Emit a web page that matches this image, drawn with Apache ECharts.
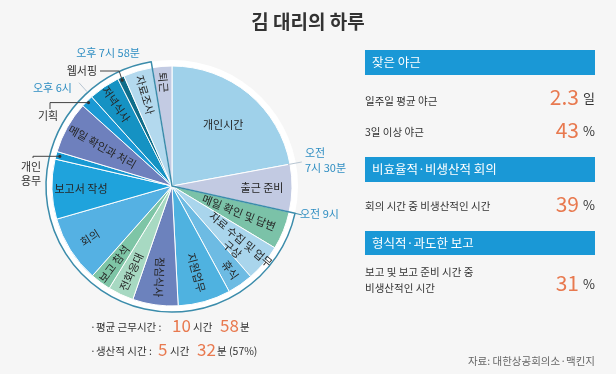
<!DOCTYPE html>
<html>
<head>
<meta charset="utf-8">
<script src="https://cdn.jsdelivr.net/npm/echarts@6/dist/echarts.min.js"></script>
<style>
html,body{margin:0;padding:0;background:#f6f6f6;}
#chart{width:616px;height:374px;}
</style>
</head>
<body>
<div id="chart"></div>
<script>
// ---- data ----
var categories = ['개인시간','출근 준비','메일 확인 및 답변','자료 수집 및 업무\n구상','휴식','지원업무','점심식사','전화응대','보고 참석','회의','보고서 작성','개인 용무','메일 확인과 처리','기획','저녁식사','웹서핑','자료조사','퇴근'];
var shares = [79.5,23,18.5,18,12.5,25.5,22,12.5,10,32.4,29,3.7,25.3,6,15.2,3.2,14.1,9.5];
var timeMarks = ['오전\n7시 30분','오전 9시','오후 6시','오후 7시 58분'];
var panelHeads = ['잦은 야근','비효율적·비생산적 회의','형식적·과도한 보고'];
var panelRows = ['일주일 평균 야근','3일 이상 야근','회의 시간 중 비생산적인 시간','보고 및 보고 준비 시간 중\n비생산적인 시간'];
var panelValues = ['2.3','43','39','31'];
var panelUnits = ['일','%','%','%'];
var workHours = ['10','58'];
var productive = ['5','32','57%'];
var source = '자료: 대한상공회의소·맥킨지';

// ---- styles / layout ----
var palette = ['#9fd1ea','#c2cae2','#7bc2a8','#a9d5ec','#6dbbe3','#4fb2e0','#6c82bd','#a7d9c2','#7ec5a6','#55b1e3','#1fa3dc','#1899d2','#6e80bd','#1b99d4','#1592c3','#0e6d8a','#b3d9ee','#c3cbe3'];
var labelRadius = [80,90,72,87,102,90,92,95,97,97,91,0,80,0,99,0,95,104];
var labelShift = [0,0,0,-2,0,0,0,0,0,0,0,0,0,0,0,0,0,0];
var FONT = '"Noto Sans CJK KR","Noto Sans",sans-serif';
var CX = 172, CY = 186, R = 120, RING = 126;
var ORANGE = '#e8794f', TEAL = '#3b8cab', BLUE = '#1a98d6', DARK = '#333';

var total = shares.reduce(function(a,b){return a+b;},0);
function boundaryAngle(i){ var c=0; for(var k=0;k<=i;k++) c+=shares[k]; return 90 - 360*c/total; }
function startAngle(i){ return i===0 ? 90 : boundaryAngle(i-1); }
function mid(i){ return (startAngle(i)+boundaryAngle(i))/2; }
function polar(a, r){ var t=a*Math.PI/180; return [CX + r*Math.cos(t), CY - r*Math.sin(t)]; }

var sumPre = shares[0]+shares[1];
var sumWork = 0; for (var k=2;k<=16;k++) sumWork += shares[k];
var sumPost = shares[17];

var horizontal = {0:1,1:1,10:1};
var hidden = {11:1,13:1,15:1};
var mainData = categories.map(function(c,i){ return {name:c, value:shares[i], itemStyle:{color:palette[i]}}; });

var chart = echarts.init(document.getElementById('chart'), null, {renderer:'canvas'});

function txt(x,y,text,opt){
  opt = opt||{};
  return {type:'text', silent:true, z:100, style:{x:x,y:y,text:text,fill:opt.fill||DARK,
    fontSize:opt.size||11,fontFamily:FONT,fontWeight:opt.weight||'normal',
    textAlign:opt.align||'left',textVerticalAlign:'middle',lineHeight:opt.lh||14}};
}
function line(points,color,w){
  return {type:'polyline', silent:true, z:100, shape:{points:points}, style:{stroke:color||'#444',lineWidth:w||1,fill:null}};
}
function dot(p){ return {type:'circle', silent:true, z:101, shape:{cx:p[0],cy:p[1],r:1.6}, style:{fill:'#333'}}; }

var g = [];
// slice labels, positioned from the data angles
categories.forEach(function(c,i){
  if (hidden[i]) return;
  var a = mid(i);
  var p = polar(a + labelShift[i], labelRadius[i]);
  var rot = 0;
  if (!horizontal[i]) {
    rot = Math.cos(a*Math.PI/180) >= 0 ? a : a + 180;
    if (i===6) rot = -93;
  }
  g.push({type:'text', silent:true, z:50, x:p[0], y:p[1], rotation:rot*Math.PI/180,
    style:{x:0,y:0,text:c,fill:'#262626',fontSize:11,fontFamily:FONT,textAlign:'center',textVerticalAlign:'middle',lineHeight:13}});
});

// title
g.push(txt(308,22,'김 대리의 하루',{size:19,weight:'bold',align:'center'}));
// time marks
var p730a = polar(boundaryAngle(0), R-2), p730b = polar(boundaryAngle(0), R+12);
g.push(line([p730a,p730b],'#b8c6d2',1));
g.push(txt(305,160,timeMarks[0],{fill:'#2f8ec2',size:11,lh:15}));
var p9a = polar(boundaryAngle(1), RING), p9b = polar(boundaryAngle(1), RING+7);
g.push(line([p9a,p9b],TEAL,1));
g.push(txt(300,214,timeMarks[1],{fill:'#2f8ec2',size:11}));
var p6a = polar(boundaryAngle(13), RING+1), p6b = polar(boundaryAngle(13), RING+13);
g.push(line([p6a,p6b],'#b8c6d2',1));
g.push(txt(33,88,timeMarks[2],{fill:'#2f8ec2',size:11}));
g.push(txt(108,53,timeMarks[3],{fill:'#2f8ec2',size:11,align:'center'}));
// outside labels
var pWeb = polar(mid(15), 117);
g.push(line([[100,71],[pWeb[0]-3,71],pWeb],'#444',1)); g.push(dot(pWeb));
g.push(txt(97,71,'웹서핑',{align:'right'}));
var pPlan = polar(mid(13), 118);
g.push(line([[50,109],[50,pPlan[1]],pPlan],'#444',1)); g.push(dot(pPlan));
g.push(txt(48,116,'기획',{align:'center'}));
var pPer = polar(mid(11), 116);
g.push(line([[33,158],[33,pPer[1]],pPer],'#444',1)); g.push(dot(pPer));
g.push(txt(31,174,'개인\n용무',{align:'center',lh:14}));

// right panel
var heads = [[50,75],[157,182],[231,255]];
heads.forEach(function(h,i){
  g.push({type:'rect',silent:true,z:90,shape:{x:365,y:h[0],width:230,height:h[1]-h[0]},style:{fill:BLUE}});
  g.push(txt(372,(h[0]+h[1])/2,panelHeads[i],{fill:'#fff',size:12.5}));
});
var rowY = [101,132,206,280];
rowY.forEach(function(y,i){
  g.push(txt(365,y,panelRows[i],{size:10.5,lh:16}));
  var vy = i===3 ? 283 : (i===0 ? 97 : y-2);
  g.push(txt(579,vy,panelValues[i],{fill:ORANGE,size:21,align:'right'}));
  g.push(txt(583,vy+1,panelUnits[i],{size:13}));
});
g.push(txt(595,361,source,{fill:'#666',size:10.5,align:'right'}));

// bottom-left summary
g.push(txt(90,327,'·평균 근무시간 :',{size:10.5}));
g.push(txt(172,326,workHours[0],{fill:ORANGE,size:17}));
g.push(txt(193,327,'시간',{size:10.5}));
g.push(txt(220,326,workHours[1],{fill:ORANGE,size:17}));
g.push(txt(240,327,'분',{size:10.5}));
g.push(txt(90,351,'·생산적 시간 :',{size:10.5}));
g.push(txt(158,350,productive[0],{fill:ORANGE,size:17}));
g.push(txt(170,351,'시간',{size:10.5}));
g.push(txt(197,350,productive[1],{fill:ORANGE,size:17}));
g.push(txt(217,351,'분',{size:10.5}));
g.push(txt(229,351,'(' + productive[2] + ')',{size:10.5}));

var noEmph = {disabled:true};
chart.setOption({
  backgroundColor:'#f6f6f6',
  animation:false,
  series:[
    { // white backing for ring gap
      type:'pie', silent:true, z:1, center:[CX,CY], radius:[0,RING], startAngle:90, clockwise:true,
      label:{show:false}, labelLine:{show:false}, emphasis:noEmph,
      data:[{value:sumPre,itemStyle:{color:'#ffffff'}},{value:sumWork,itemStyle:{color:'#ffffff'}},{value:sumPost,itemStyle:{color:'#ffffff'}}]
    },
    { // main pie
      type:'pie', silent:true, z:2, center:[CX,CY], radius:[0,R], startAngle:90, clockwise:true,
      avoidLabelOverlap:false, label:{show:false}, labelLine:{show:false}, emphasis:noEmph,
      itemStyle:{borderColor:'#ffffff',borderWidth:1},
      data:mainData
    },
    { // ring outline (work hours)
      type:'pie', silent:true, z:3, center:[CX,CY], radius:[0,RING], startAngle:90, clockwise:true,
      label:{show:false}, labelLine:{show:false}, emphasis:noEmph,
      data:[{value:sumPre,itemStyle:{color:'rgba(0,0,0,0)',borderWidth:0}},
            {value:sumWork,itemStyle:{color:'rgba(0,0,0,0)',borderColor:TEAL,borderWidth:1.5}},
            {value:sumPost,itemStyle:{color:'rgba(0,0,0,0)',borderWidth:0}}]
    }
  ],
  graphic:g
});
</script>
</body>
</html>
